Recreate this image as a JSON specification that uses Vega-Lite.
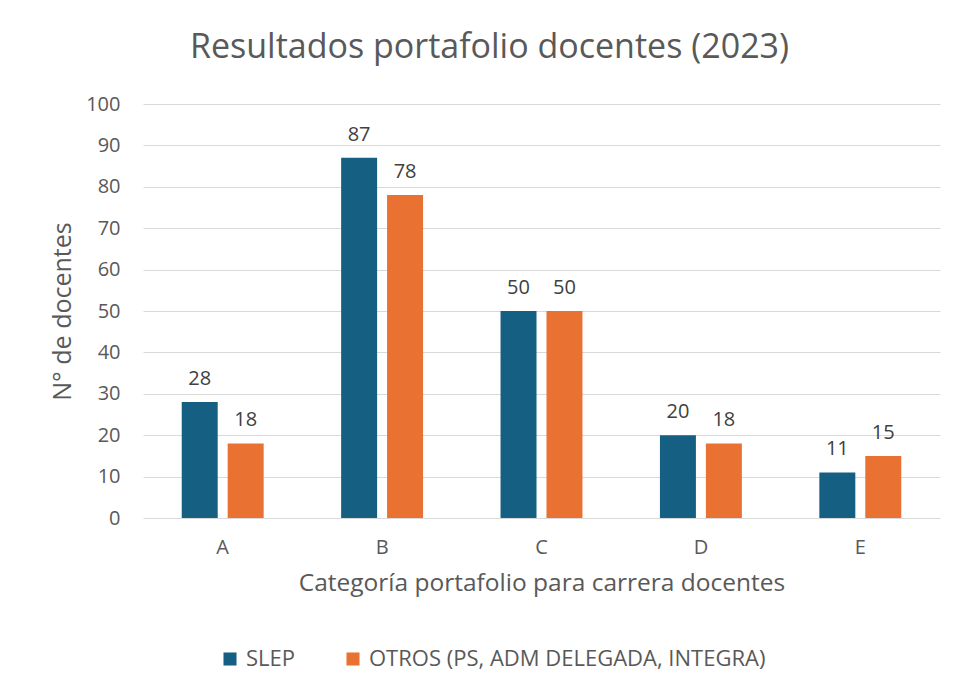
{
  "$schema": "https://vega.github.io/schema/vega-lite/v6.json",
  "width": 797,
  "height": 414,
  "autosize": {"type": "none"},
  "padding": {"left": 143, "top": 104, "right": 19, "bottom": 178},
  "background": "white",
  "title": {
    "text": "Resultados portafolio docentes (2023)",
    "font": "Open Sans",
    "fontSize": 34,
    "fontWeight": "normal",
    "color": "#595959",
    "anchor": "middle",
    "offset": 29,
    "dx": -52
  },
  "config": {
    "view": {"stroke": null},
    "font": "Open Sans"
  },
  "data": {
    "values": [
      {"cat": "A", "serie": "SLEP", "n": 28},
      {"cat": "A", "serie": "OTROS (PS, ADM DELEGADA, INTEGRA)", "n": 18},
      {"cat": "B", "serie": "SLEP", "n": 87},
      {"cat": "B", "serie": "OTROS (PS, ADM DELEGADA, INTEGRA)", "n": 78},
      {"cat": "C", "serie": "SLEP", "n": 50},
      {"cat": "C", "serie": "OTROS (PS, ADM DELEGADA, INTEGRA)", "n": 50},
      {"cat": "D", "serie": "SLEP", "n": 20},
      {"cat": "D", "serie": "OTROS (PS, ADM DELEGADA, INTEGRA)", "n": 18},
      {"cat": "E", "serie": "SLEP", "n": 11},
      {"cat": "E", "serie": "OTROS (PS, ADM DELEGADA, INTEGRA)", "n": 15}
    ]
  },
  "encoding": {
    "x": {
      "field": "cat",
      "type": "nominal",
      "scale": {"paddingInner": 0.486, "paddingOuter": 0.243},
      "axis": {
        "title": "Categoría portafolio para carrera docentes",
        "titleFont": "Open Sans",
        "titleFontSize": 24.5,
        "titleFontWeight": "normal",
        "titleColor": "#595959",
        "titlePadding": 14,
        "labelFont": "Open Sans",
        "labelFontSize": 20,
        "labelColor": "#595959",
        "labelAngle": 0,
        "labelPadding": 19,
        "ticks": false,
        "domain": false
      }
    },
    "xOffset": {
      "field": "serie",
      "type": "nominal",
      "sort": ["SLEP", "OTROS (PS, ADM DELEGADA, INTEGRA)"],
      "scale": {"paddingInner": 0.217, "paddingOuter": 0}
    },
    "y": {
      "field": "n",
      "type": "quantitative",
      "scale": {"domain": [0, 100]},
      "axis": {
        "title": "N° de docentes",
        "titleFont": "Open Sans",
        "titleFontSize": 25,
        "titleFontWeight": "normal",
        "titleColor": "#595959",
        "titlePadding": 10,
        "labelFont": "Open Sans",
        "labelFontSize": 20,
        "labelColor": "#595959",
        "labelPadding": 23,
        "values": [0, 10, 20, 30, 40, 50, 60, 70, 80, 90, 100],
        "ticks": false,
        "domain": false,
        "gridColor": "#d9d9d9",
        "gridWidth": 1.2
      }
    },
    "color": {
      "field": "serie",
      "type": "nominal",
      "sort": ["SLEP", "OTROS (PS, ADM DELEGADA, INTEGRA)"],
      "scale": {
        "domain": ["SLEP", "OTROS (PS, ADM DELEGADA, INTEGRA)"],
        "range": ["#156082", "#E97132"]
      },
      "legend": {
        "title": null,
        "orient": "none",
        "direction": "horizontal",
        "legendX": 76,
        "legendY": 544,
        "symbolType": "square",
        "symbolSize": 170,
        "symbolStrokeWidth": 0,
        "labelFont": "Open Sans",
        "labelFontSize": 22,
        "labelColor": "#595959",
        "labelOffset": 5,
        "labelLimit": 600,
        "columnPadding": 46
      }
    }
  },
  "layer": [
    {"mark": {"type": "bar"}},
    {
      "mark": {
        "type": "text",
        "baseline": "alphabetic",
        "dy": -17,
        "font": "Open Sans",
        "fontSize": 20,
        "color": "#404040"
      },
      "encoding": {
        "text": {"field": "n", "type": "quantitative"},
        "color": {"value": "#404040"}
      }
    }
  ]
}
